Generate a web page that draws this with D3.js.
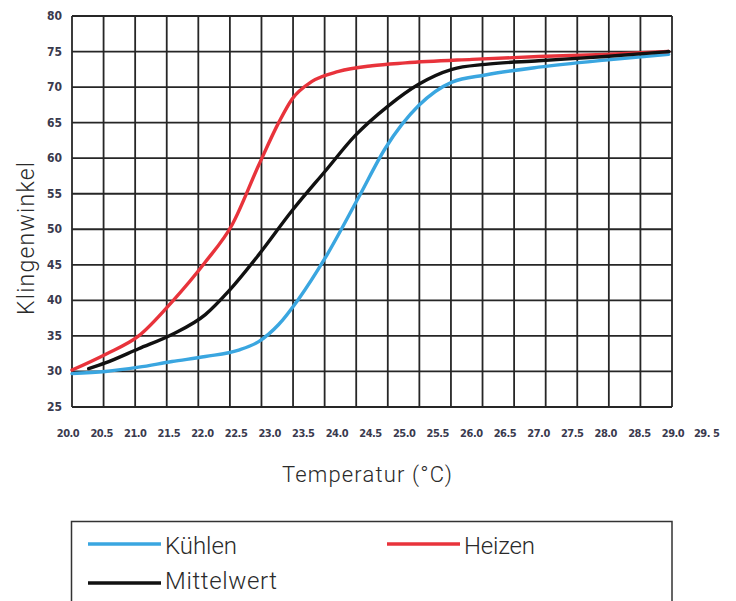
<!DOCTYPE html>
<html>
<head>
<meta charset="utf-8">
<script src="https://cdn.jsdelivr.net/npm/d3@7/dist/d3.min.js"></script>
<style>
  html, body { margin: 0; padding: 0; background: #fff; }
  svg { display: block; }
</style>
</head>
<body>
<svg id="chart" width="736" height="601"></svg>
<script>
// ---- data ----
const yTicks = [25, 30, 35, 40, 45, 50, 55, 60, 65, 70, 75, 80];
const xTickLabels = ["20.0","20.5","21.0","21.5","22.0","22.5","23.0","23.5","24.0","24.5","25.0","25.5","26.0","26.5","27.0","27.5","28.0","28.5","29.0","29. 5"];
const xTickValues = [20.0,20.5,21.0,21.5,22.0,22.5,23.0,23.5,24.0,24.5,25.0,25.5,26.0,26.5,27.0,27.5,28.0,28.5,29.0,29.5];
const gridColumns = 19;

const kuehlenT = [20.0, 20.5, 21.0, 21.5, 22.0, 22.5, 22.8, 23.1, 23.4, 23.8, 24.3, 24.7, 25.2, 25.7, 26.2, 27.0, 28.0, 28.95];
const kuehlenV = [29.7, 30.0, 30.6, 31.4, 32.1, 33.0, 34.2, 36.6, 40.2, 46.0, 54.5, 61.4, 67.4, 70.7, 71.7, 72.8, 73.8, 74.6];

const heizenT = [20.0, 20.5, 21.0, 21.5, 22.0, 22.4, 22.8, 23.1, 23.3, 23.6, 24.0, 24.5, 25.0, 26.0, 27.0, 28.0, 28.95];
const heizenV = [30.2, 32.4, 35.0, 39.8, 45.4, 50.6, 59.0, 65.0, 68.3, 70.8, 72.2, 73.0, 73.4, 73.9, 74.3, 74.6, 75.0];

const mittelT = [20.25, 20.5, 21.0, 21.5, 22.0, 22.35, 22.8, 23.3, 23.8, 24.25, 24.75, 25.2, 25.7, 26.2, 27.0, 28.0, 28.95];
const mittelV = [30.4, 31.2, 33.2, 35.2, 38.0, 41.3, 46.4, 52.6, 58.2, 63.2, 67.4, 70.4, 72.5, 73.2, 73.7, 74.3, 75.0];

const seriesNames = ["Kühlen", "Heizen", "Mittelwert"];
const seriesColors = ["#3aa6e0", "#e8333b", "#111111"];

// ---- layout ----
const svg = d3.select("#chart");
const mLeft = 72, mRight = 672, mTop = 16, mBottom = 407;
const x = d3.scaleLinear().domain([20, 29]).range([mLeft, mRight]);
const xLabel = d3.scaleLinear().domain([20, 29]).range([68, 673]);
const xGrid = d3.scaleLinear().domain([0, gridColumns]).range([mLeft, mRight]);
const y = d3.scaleLinear().domain([25, 80]).range([mBottom, mTop]);

const gridColor = "#262626";
const tickFont = "'DejaVu Sans Condensed', 'Liberation Sans Narrow', sans-serif";
const titleFont = "Roboto, 'Noto Sans', sans-serif";

// horizontal grid lines
svg.append("g").selectAll("line").data(yTicks).join("line")
  .attr("x1", mLeft).attr("x2", mRight)
  .attr("y1", d => y(d)).attr("y2", d => y(d))
  .attr("stroke", gridColor).attr("stroke-width", 1.8);

// vertical grid lines
svg.append("g").selectAll("line").data(d3.range(gridColumns + 1)).join("line")
  .attr("x1", d => xGrid(d)).attr("x2", d => xGrid(d))
  .attr("y1", mTop).attr("y2", mBottom)
  .attr("stroke", gridColor).attr("stroke-width", 1.8);

// y tick labels
svg.append("g").selectAll("text").data(yTicks).join("text")
  .attr("x", 62).attr("y", d => y(d) + 4)
  .attr("text-anchor", "end")
  .attr("font-family", tickFont)
  .attr("font-weight", "bold")
  .attr("font-size", 12)
  .attr("fill", "#3a3a4e")
  .text(d => d);

// x tick labels
svg.append("g").selectAll("text").data(xTickValues).join("text")
  .attr("x", d => xLabel(d)).attr("y", 437)
  .attr("text-anchor", "middle")
  .attr("font-family", tickFont)
  .attr("font-weight", "bold")
  .attr("font-size", 11)
  .attr("letter-spacing", -0.5)
  .attr("fill", "#3a3a4e")
  .text((d, i) => xTickLabels[i]);

// lines
const lineGen = d3.line().x(d => x(d[0])).y(d => y(d[1])).curve(d3.curveMonotoneX);
const seriesData = [
  d3.zip(kuehlenT, kuehlenV),
  d3.zip(heizenT, heizenV),
  d3.zip(mittelT, mittelV)
];
svg.append("g").selectAll("path").data(seriesData).join("path")
  .attr("d", d => lineGen(d))
  .attr("fill", "none")
  .attr("stroke", (d, i) => seriesColors[i])
  .attr("stroke-width", 3.4)
  .attr("stroke-linecap", "round");

// axis titles
svg.append("text")
  .attr("x", 282).attr("y", 482)
  .attr("font-family", titleFont)
  .attr("font-weight", 300)
  .attr("font-size", 22)
  .attr("textLength", 170)
  .attr("lengthAdjust", "spacing")
  .attr("fill", "#2a2a2a")
  .text("Temperatur (°C)");

svg.append("text")
  .attr("transform", "translate(34,315) rotate(-90)")
  .attr("font-family", titleFont)
  .attr("font-weight", 300)
  .attr("font-size", 23)
  .attr("textLength", 153)
  .attr("lengthAdjust", "spacing")
  .attr("fill", "#2a2a2a")
  .text("Klingenwinkel");

// legend
svg.append("rect")
  .attr("x", 71.5).attr("y", 521.5).attr("width", 600.5).attr("height", 100)
  .attr("fill", "none").attr("stroke", "#333").attr("stroke-width", 1.5);

const legendPos = [[88, 544], [387, 544], [88, 583]];
const legendTextDy = [10, 10, 6];
const legendWidths = [72, 71, 112];
const lg = svg.append("g").selectAll("g").data(seriesNames).join("g")
  .attr("transform", (d, i) => `translate(${legendPos[i][0]},${legendPos[i][1]})`);
lg.append("line")
  .attr("x1", 0).attr("x2", 73).attr("y1", 0).attr("y2", 0)
  .attr("stroke", (d, i) => seriesColors[i]).attr("stroke-width", 3.4);
lg.append("text")
  .attr("x", 77).attr("y", (d, i) => legendTextDy[i])
  .attr("font-family", titleFont)
  .attr("font-weight", 300)
  .attr("font-size", 24)
  .attr("textLength", (d, i) => legendWidths[i])
  .attr("lengthAdjust", "spacing")
  .attr("fill", "#2a2a2a")
  .text(d => d);
</script>
</body>
</html>
